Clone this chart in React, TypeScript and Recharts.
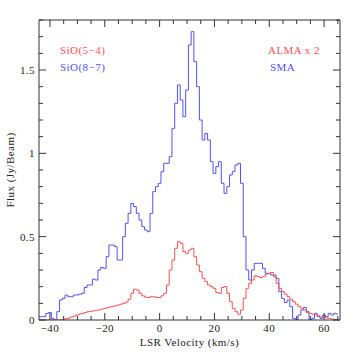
import React from 'react';
import { ComposedChart, Line, XAxis, YAxis } from 'recharts';

// LSR velocity channels (km/s)
const velocities = [
  -44, -43, -42, -41, -40, -39, -38, -37, -36, -35,
  -34, -33, -32, -31, -30, -29, -28, -27, -26, -25,
  -24, -23, -22, -21, -20, -19, -18, -17, -16, -15,
  -14, -13, -12, -11, -10, -9, -8, -7, -6, -5,
  -4, -3, -2, -1, 0, 1, 2, 3, 4, 5,
  6, 7, 8, 9, 10, 11, 12, 13, 14, 15,
  16, 17, 18, 19, 20, 21, 22, 23, 24, 25,
  26, 27, 28, 29, 30, 31, 32, 33, 34, 35,
  36, 37, 38, 39, 40, 41, 42, 43, 44, 45,
  46, 47, 48, 49, 50, 51, 52, 53, 54, 55,
  56, 57, 58, 59, 60, 61, 62, 63, 64, 65,
];

// SiO(8-7), SMA (Jy/Beam)
const smaFlux = [
  0.02, 0.02, 0.02, 0.04, 0.045, 0.01, 0.0, 0.05, 0.12, 0.13,
  0.15, 0.14, 0.14, 0.15, 0.15, 0.155, 0.16, 0.195, 0.21, 0.21,
  0.245, 0.24, 0.30, 0.315, 0.31, 0.38, 0.45, 0.45, 0.44, 0.36,
  0.36, 0.50, 0.58, 0.64, 0.70, 0.68, 0.64, 0.60, 0.56, 0.54,
  0.53, 0.64, 0.77, 0.80, 0.82, 0.89, 0.94, 0.94, 0.98, 1.15,
  1.30, 1.41, 1.32, 1.22, 1.38, 1.65, 1.73, 1.55, 1.40, 1.20,
  1.08, 1.12, 1.08, 0.95, 0.88, 0.92, 0.95, 0.82, 0.76, 0.80,
  0.87, 0.89, 0.93, 0.94, 0.82, 0.50, 0.30, 0.24, 0.30, 0.34,
  0.34, 0.34, 0.31, 0.28, 0.28, 0.27, 0.27, 0.25, 0.17, 0.13,
  0.105, 0.12, 0.08, 0.01, 0.0, 0.03, 0.06, 0.075, 0.05, 0.0,
  0.01, 0.04, 0.02, 0.01, 0.03, 0.02, 0.04, 0.03, 0.04, 0.035,
];

// SiO(5-4), ALMA x 2 (Jy/Beam)
const almaFlux = [
  0, 0, 0, 0, 0, 0, 0, 0, 0, 0.003,
  0.008, 0.012, 0.018, 0.024, 0.03, 0.036, 0.04, 0.045, 0.05, 0.052,
  0.055, 0.058, 0.06, 0.065, 0.07, 0.074, 0.078, 0.082, 0.085, 0.09,
  0.095, 0.10, 0.108, 0.125, 0.16, 0.185, 0.18, 0.16, 0.145, 0.137,
  0.135, 0.14, 0.14, 0.135, 0.135, 0.145, 0.16, 0.21, 0.30, 0.36,
  0.43, 0.47, 0.46, 0.41, 0.40, 0.42, 0.43, 0.38, 0.33, 0.29,
  0.25, 0.23, 0.21, 0.20, 0.19, 0.165, 0.16, 0.195, 0.20, 0.16,
  0.11, 0.07, 0.05, 0.035, 0.06, 0.13, 0.19, 0.22, 0.24, 0.265,
  0.26, 0.255, 0.26, 0.275, 0.28, 0.285, 0.26, 0.22, 0.19, 0.17,
  0.155, 0.14, 0.125, 0.11, 0.095, 0.08, 0.07, 0.06, 0.045, 0.04,
  0.035, 0.03, 0.025, 0.018, 0.015, 0.012, 0.01, 0.006, 0.003, 0,
];

const xTicks = [-40, -35, -30, -25, -20, -15, -10, -5, 0, 5, 10, 15, 20, 25, 30, 35, 40, 45, 50, 55, 60, 65];
const xLabelTicks = [-40, -20, 0, 20, 40, 60];
const yTicks = [0, 0.1, 0.2, 0.3, 0.4, 0.5, 0.6, 0.7, 0.8, 0.9, 1, 1.1, 1.2, 1.3, 1.4, 1.5, 1.6, 1.7, 1.8];
const yLabelTicks = [0, 0.5, 1, 1.5];

const rows = velocities.map((v, i) => ({ v, sma: smaFlux[i], alma: almaFlux[i] }));

const AXIS = '#333';
const TEXT = '#222';
const BLUE = '#5252ff';
const RED = '#ff5252';
const FONT = '"Liberation Serif", "DejaVu Serif", serif';
const LS = 0.45;

const fmt = (v: number) => (v < 0 ? '\u2212' + String(-v) : String(v));
const isMajorX = (v: number) => xLabelTicks.some((t) => Math.abs(t - v) < 1e-6);
const isMajorY = (v: number) => yLabelTicks.some((t) => Math.abs(t - v) < 1e-6);

function BottomTick(props: any) {
  const { x, y, payload } = props;
  const major = isMajorX(payload.value);
  return (
    <g>
      <line x1={x} x2={x} y1={y} y2={y - (major ? 7 : 4)} stroke={AXIS} />
      {major && (
        <text x={x} y={y + 12} textAnchor="middle" fontSize={11} fill={TEXT} fontFamily={FONT} letterSpacing={LS}>
          {fmt(payload.value)}
        </text>
      )}
    </g>
  );
}

function TopTick(props: any) {
  const { x, y, payload } = props;
  const major = isMajorX(payload.value);
  return <line x1={x} x2={x} y1={y} y2={y + (major ? 7 : 4)} stroke={AXIS} />;
}

function LeftTick(props: any) {
  const { x, y, payload } = props;
  const major = isMajorY(payload.value);
  return (
    <g>
      <line x1={x} x2={x + (major ? 7 : 4)} y1={y} y2={y} stroke={AXIS} />
      {major && (
        <text x={x - 4} y={y + 4} textAnchor="end" fontSize={11} fill={TEXT} fontFamily={FONT} letterSpacing={LS}>
          {String(payload.value)}
        </text>
      )}
    </g>
  );
}

function RightTick(props: any) {
  const { x, y, payload } = props;
  const major = isMajorY(payload.value);
  return <line x1={x} x2={x - (major ? 7 : 4)} y1={y} y2={y} stroke={AXIS} />;
}

export default function App() {
  return (
    <div style={{ position: 'absolute', left: 0, top: 0, width: 359, height: 359, background: '#fff' }}>
      <ComposedChart width={359} height={359} data={rows} margin={{ top: 0, right: 0, bottom: 0, left: 0 }}>
        <XAxis
          dataKey="v"
          type="number"
          domain={[-44, 65.8]}
          allowDataOverflow
          ticks={xTicks}
          interval={0}
          tickSize={0}
          tickMargin={0}
          tickLine={false}
          tick={<BottomTick />}
          axisLine={{ stroke: AXIS }}
          height={39}
          label={{
            content: (p: any) => {
              const vb = p.viewBox;
              return (
                <text x={vb.x + vb.width / 2} y={vb.y + 26} textAnchor="middle" fontSize={11} fill={TEXT} fontFamily={FONT} letterSpacing={LS}>
                  LSR Velocity (km/s)
                </text>
              );
            },
          }}
        />
        <XAxis
          xAxisId="top"
          orientation="top"
          dataKey="v"
          type="number"
          domain={[-44, 65.8]}
          allowDataOverflow
          ticks={xTicks}
          interval={0}
          tickSize={0}
          tickMargin={0}
          tickLine={false}
          tick={<TopTick />}
          axisLine={{ stroke: AXIS }}
          height={20}
        />
        <YAxis
          type="number"
          domain={[0, 1.8]}
          allowDataOverflow
          ticks={yTicks}
          interval={0}
          tickSize={0}
          tickMargin={0}
          tickLine={false}
          tick={<LeftTick />}
          axisLine={{ stroke: AXIS }}
          width={39}
          label={{
            content: (p: any) => {
              const vb = p.viewBox;
              const cx = 14;
              const cy = vb.y + vb.height / 2;
              return (
                <text x={cx} y={cy} textAnchor="middle" fontSize={11} fill={TEXT} fontFamily={FONT} letterSpacing={LS} transform={`rotate(-90, ${cx}, ${cy})`}>
                  Flux (Jy/Beam)
                </text>
              );
            },
          }}
        />
        <YAxis
          yAxisId="right"
          orientation="right"
          type="number"
          domain={[0, 1.8]}
          allowDataOverflow
          ticks={yTicks}
          interval={0}
          tickSize={0}
          tickMargin={0}
          tickLine={false}
          tick={<RightTick />}
          axisLine={{ stroke: AXIS }}
          width={19}
        />
        <Line dataKey="sma" type="step" stroke={BLUE} strokeWidth={1} dot={false} activeDot={false} isAnimationActive={false} />
        <Line dataKey="alma" xAxisId="top" yAxisId="right" type="step" stroke={RED} strokeWidth={1} dot={false} activeDot={false} isAnimationActive={false} />
        <text x={60} y={54} fontSize={11} fill={RED} fontFamily={FONT} letterSpacing={LS}>SiO(5{'\u2212'}4)</text>
        <text x={60} y={71} fontSize={11} fill={BLUE} fontFamily={FONT} letterSpacing={LS}>SiO(8{'\u2212'}7)</text>
        <text x={268} y={54} fontSize={11} fill={RED} fontFamily={FONT} letterSpacing={LS}>ALMA x 2</text>
        <text x={270} y={71} fontSize={11} fill={BLUE} fontFamily={FONT} letterSpacing={LS}>SMA</text>
      </ComposedChart>
    </div>
  );
}
